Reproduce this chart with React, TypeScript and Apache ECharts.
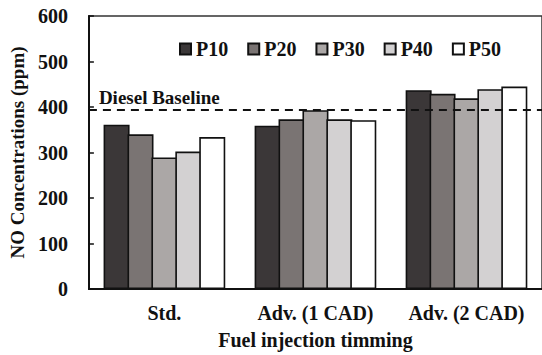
import React, { useEffect, useRef } from "react";
import * as echarts from "echarts";

const categories = ["Std.", "Adv. (1 CAD)", "Adv. (2 CAD)"];
const seriesNames = ["P10", "P20", "P30", "P40", "P50"];
const p10 = [361, 359, 437];
const p20 = [340, 373, 429];
const p30 = [289, 393, 419];
const p40 = [302, 373, 439];
const p50 = [334, 371, 445];
const seriesValues = [p10, p20, p30, p40, p50];
const barColors = ["#3b3738", "#7a7473", "#aba7a6", "#d3d1d2", "#ffffff"];
const baselineValue = 393;
const baselineLabel = "Diesel Baseline";
const yTitle = "NO Concentrations (ppm)";
const xTitle = "Fuel injection timming";

const FONT = "'Liberation Serif', 'Times New Roman', serif";

export default function App() {
  const ref = useRef<HTMLDivElement>(null);
  useEffect(() => {
    if (!ref.current) return;
    const chart = echarts.init(ref.current, undefined, { renderer: "svg" });
    const series: any[] = seriesNames.map((name, i) => ({
      name,
      type: "bar",
      data: seriesValues[i],
      barWidth: 26,
      barGap: "-8%",
      itemStyle: { color: barColors[i], borderColor: "#111111", borderWidth: 1.6 },
      ...(i === 0
        ? {
            markLine: {
              silent: true,
              symbol: "none",
              data: [{ yAxis: baselineValue }],
              lineStyle: { type: [8, 6], color: "#111", width: 2 },
              label: {
                show: true,
                position: "insideStartTop",
                formatter: baselineLabel,
                fontFamily: FONT,
                fontWeight: "bold",
                fontSize: 19,
                color: "#111",
                distance: [10, 3],
              },
            },
          }
        : {}),
    }));
    chart.setOption({
      animation: false,
      backgroundColor: "#fff",
      textStyle: { fontFamily: FONT },
      grid: {
        left: 82,
        right: -7,
        top: 16,
        bottom: 61,
        show: true,
        borderColor: "#333",
        borderWidth: 1.5,
        backgroundColor: "transparent",
      },
      legend: {
        data: seriesNames,
        left: 174,
        top: 34,
        itemWidth: 11,
        itemHeight: 11,
        itemGap: 19,
        icon: "rect",
        textStyle: { fontFamily: FONT, fontWeight: "bold", fontSize: 20, color: "#111" },
      },
      xAxis: {
        type: "category",
        data: categories,
        name: xTitle,
        nameLocation: "middle",
        nameGap: 41,
        nameTextStyle: { fontFamily: FONT, fontWeight: "bold", fontSize: 20, color: "#111" },
        axisLine: { lineStyle: { color: "#111", width: 2 } },
        axisTick: { show: false },
        axisLabel: { fontFamily: FONT, fontWeight: "bold", fontSize: 20, color: "#111", margin: 14 },
      },
      yAxis: {
        type: "value",
        min: 0,
        max: 600,
        interval: 100,
        name: yTitle,
        nameLocation: "middle",
        nameGap: 54,
        nameTextStyle: { fontFamily: FONT, fontWeight: "bold", fontSize: 19, color: "#111" },
        axisLine: { show: true, lineStyle: { color: "#111", width: 2 } },
        axisTick: { show: true, inside: true, length: 5, lineStyle: { color: "#111", width: 1.5 } },
        splitLine: { show: false },
        axisLabel: { fontFamily: FONT, fontWeight: "bold", fontSize: 20, color: "#111", margin: 21 },
      },
      series,
    });
    return () => chart.dispose();
  }, []);
  return (
    <div
      ref={ref}
      style={{ position: "fixed", left: 0, top: 0, width: 542, height: 355, background: "#fff" }}
    />
  );
}
